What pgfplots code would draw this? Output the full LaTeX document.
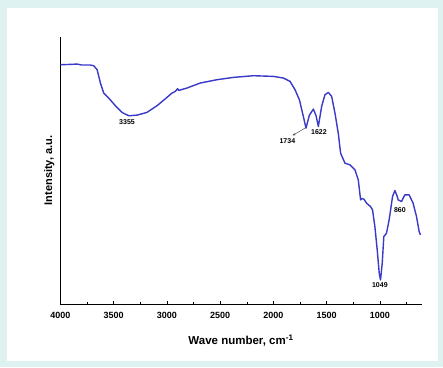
\documentclass[border=0pt]{standalone}
\usepackage{pgfplots}
\pgfplotsset{compat=1.18}
\usetikzlibrary{arrows.meta}
\usepackage{fontspec}
\setmainfont{Liberation Sans}
\definecolor{bgc}{RGB}{222,242,242}
\definecolor{curve}{RGB}{58,58,200}
\begin{document}
\begin{tikzpicture}
\fill[bgc] (0pt,0pt) rectangle (443pt,367pt);
\fill[white] (7pt,6pt) rectangle (438pt,359pt);
\begin{axis}[at={(60.5pt,63pt)}, anchor=south west, scale only axis,
  width=361pt, height=267pt,
  x dir=reverse, xmin=609, xmax=4000, ymin=0, ymax=800,
  axis x line*=bottom, axis y line*=left,
  ytick=\empty,
  xtick={1000,1500,...,4000}, minor xtick={750,1250,...,3750},
  tick align=inside, major tick length=3pt, minor tick length=2pt,
  tick style={black, line width=0.6pt},
  axis line style={black, line width=0.9pt},
  xticklabel style={font=\fontsize{9}{10}\selectfont\bfseries, yshift=-5pt},
  /pgf/number format/assume math mode=true,
  /pgf/number format/set thousands separator={},
  xlabel={Wave number, cm\textsuperscript{-1}},
  xlabel style={font=\fontsize{11.5}{12}\selectfont\bfseries, at={(axis description cs:0.5,-0.137)}, anchor=center},
  ylabel={Intensity, a.u.},
  ylabel style={font=\fontsize{11}{12}\selectfont\bfseries, at={(axis description cs:-0.031,0.5)}, anchor=center},
  clip=false]
\addplot[curve, line width=1.4pt, line join=round] table {
4000 717
3900 718
3844 719
3800 716
3720 716
3688 714
3656 702
3625 662
3594 632
3547 617
3484 594
3422 574
3359 564
3281 566
3188 574
3094 594
3000 619
2953 632
2922 637
2900 645
2890 640
2813 647
2688 662
2531 672
2375 679
2188 684
2000 682
1906 677
1844 667
1797 642
1756 612
1719 562
1694 527
1663 565
1625 584
1600 565
1578 532
1547 592
1516 627
1484 634
1453 622
1422 572
1391 512
1369 452
1328 422
1281 417
1234 402
1203 372
1181 312
1165 316
1150 314
1125 302
1088 292
1069 282
1047 232
1025 162
1006 92
994 72
978 122
963 202
938 212
913 252
881 322
859 340
840 325
828 312
797 307
766 327
725 327
688 302
656 262
631 217
619 207
};
\node[font=\fontsize{7}{8}\selectfont\bfseries] at (axis cs:3375,545) {3355};
\node[font=\fontsize{7}{8}\selectfont\bfseries] at (axis cs:1869,487) {1734};
\node[font=\fontsize{7}{8}\selectfont\bfseries] at (axis cs:1572,514) {1622};
\node[font=\fontsize{7}{8}\selectfont\bfseries] at (axis cs:1000,58) {1049};
\node[font=\fontsize{7}{8}\selectfont\bfseries] at (axis cs:812,282) {860};
\draw[black!70, line width=0.5pt, -{Stealth[length=3pt,width=2.5pt]}] (axis cs:1703,527) -- (axis cs:1820,505);
\end{axis}
\end{tikzpicture}
\end{document}
